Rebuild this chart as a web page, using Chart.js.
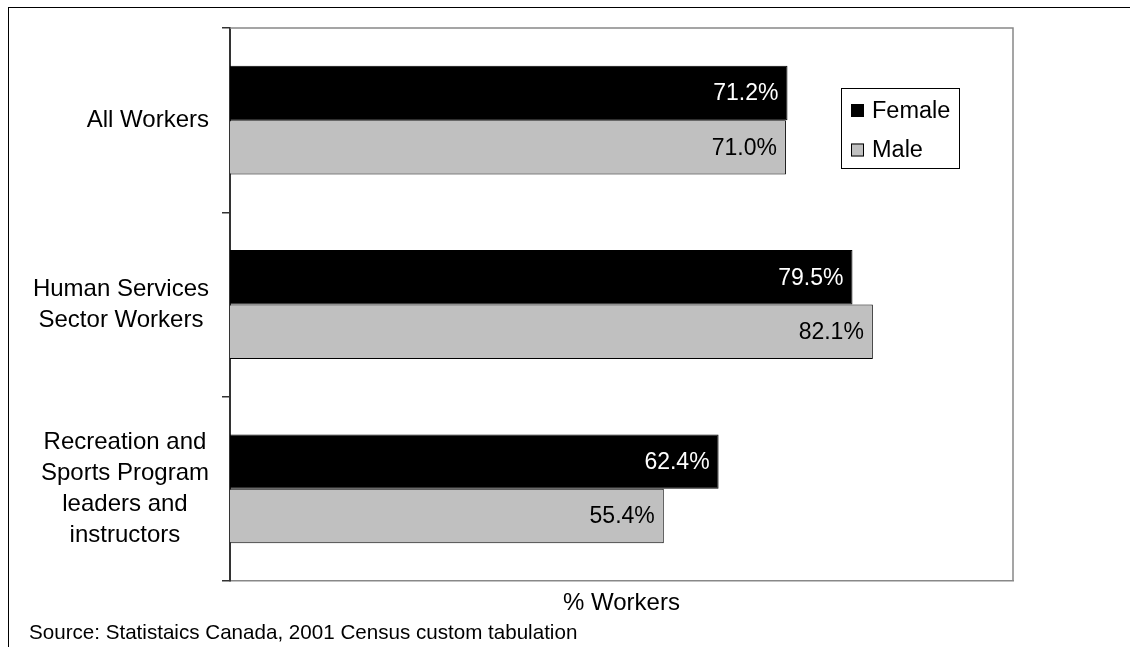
<!DOCTYPE html>
<html>
<head>
<meta charset="utf-8">
<script src="https://cdn.jsdelivr.net/npm/chart.js@4"></script>
<style>
  html, body { margin: 0; padding: 0; background: #fff; }
  #wrap { width: 1130px; height: 647px; }
</style>
</head>
<body>
<div id="wrap"><canvas id="grafico" width="1130" height="647"></canvas></div>
<script>
const categorias = [
  ['All Workers'],
  ['Human Services', 'Sector Workers'],
  ['Recreation and', 'Sports Program', 'leaders and', 'instructors']
];
const valoresFemale = [71.2, 79.5, 62.4];
const valoresMale = [71.0, 82.1, 55.4];
const tituloEixoX = '% Workers';
const textoFonte = 'Source: Statistaics Canada, 2001 Census custom tabulation';

const fonte = '"Liberation Sans", Arial, sans-serif';

// moldura externa, borda da area do grafico e textos extras
const pluginMoldura = {
  id: 'moldura',
  beforeDraw(chart) {
    const ctx = chart.ctx;
    ctx.save();
    ctx.strokeStyle = '#000';
    ctx.lineWidth = 1;
    ctx.strokeRect(8.5, 7.5, 1300, 1000);
    ctx.restore();
  },
  afterDraw(chart) {
    const ctx = chart.ctx;
    const a = chart.chartArea;
    ctx.save();
    ctx.strokeStyle = '#888';
    ctx.lineWidth = 1.5;
    ctx.beginPath();
    ctx.moveTo(a.left, a.top);
    ctx.lineTo(a.right, a.top);
    ctx.lineTo(a.right, a.bottom);
    ctx.stroke();

    // rotulos do eixo y: bloco alinhado a direita, linhas centralizadas
    const escalaY = chart.scales.y;
    ctx.fillStyle = '#000';
    ctx.font = '24px ' + fonte;
    ctx.textBaseline = 'middle';
    ctx.textAlign = 'center';
    const alturaLinha = 31;
    const direita = 209;
    chart.data.labels.forEach((linhas, i) => {
      const largura = Math.max(...linhas.map(l => ctx.measureText(l).width));
      const cx = direita - largura / 2;
      const y0 = escalaY.getPixelForValue(i) - (linhas.length - 1) * alturaLinha / 2;
      linhas.forEach((l, j) => ctx.fillText(l, cx, y0 + j * alturaLinha));
    });

    // valores nas barras
    ctx.font = '23px ' + fonte;
    ctx.textAlign = 'right';
    chart.data.datasets.forEach((ds, d) => {
      const meta = chart.getDatasetMeta(d);
      meta.data.forEach((barra, i) => {
        ctx.fillStyle = d === 0 ? '#fff' : '#000';
        ctx.fillText(ds.data[i].toFixed(1) + '%', barra.x - 9, barra.y + 1);
      });
    });

    // legenda
    const lx = 841, ly = 88, lw = 118, lh = 80;
    ctx.fillStyle = '#fff';
    ctx.fillRect(lx, ly, lw, lh);
    ctx.strokeStyle = '#000';
    ctx.lineWidth = 1;
    ctx.strokeRect(lx + 0.5, ly + 0.5, lw, lh);
    ctx.font = '23.5px ' + fonte;
    ctx.textAlign = 'left';
    chart.data.datasets.forEach((ds, d) => {
      const yc = ly + 22.5 + d * 39.5;
      ctx.fillStyle = ds.backgroundColor;
      ctx.fillRect(851, yc - 6.5, 13, 13);
      ctx.strokeStyle = '#000';
      ctx.strokeRect(851.5, yc - 6, 12, 12);
      ctx.fillStyle = '#000';
      ctx.fillText(ds.label, 872, yc + 1);
    });

    // fonte dos dados
    ctx.font = '20.6px ' + fonte;
    ctx.textBaseline = 'alphabetic';
    ctx.fillText(textoFonte, 29, 639);
    ctx.restore();
  }
};

new Chart(document.getElementById('grafico').getContext('2d'), {
  type: 'bar',
  data: {
    labels: categorias,
    datasets: [
      {
        label: 'Female',
        data: valoresFemale,
        backgroundColor: '#000000',
        borderColor: '#000000',
        borderWidth: 1
      },
      {
        label: 'Male',
        data: valoresMale,
        backgroundColor: '#c0c0c0',
        borderColor: '#000000',
        borderWidth: 1
      }
    ]
  },
  options: {
    indexAxis: 'y',
    responsive: false,
    animation: false,
    categoryPercentage: 0.59,
    barPercentage: 1,
    layout: { padding: { left: 10, top: 28, right: 117, bottom: 26 } },
    plugins: {
      legend: { display: false },
      tooltip: { enabled: false }
    },
    scales: {
      x: {
        min: 0,
        max: 100,
        ticks: { display: false },
        grid: { display: false },
        border: { color: '#888', width: 1.5 },
        title: {
          display: true,
          text: tituloEixoX,
          color: '#000',
          font: { family: fonte, size: 24 },
          padding: { top: 0, bottom: 3 }
        },
        afterFit(escala) { escala.height = 40; }
      },
      y: {
        ticks: { display: false },
        grid: { drawOnChartArea: false, tickLength: 8, color: '#333', lineWidth: 1.5 },
        border: { color: '#333', width: 2 },
        afterFit(escala) { escala.width = 220; }
      }
    }
  },
  plugins: [pluginMoldura]
});
</script>
</body>
</html>
